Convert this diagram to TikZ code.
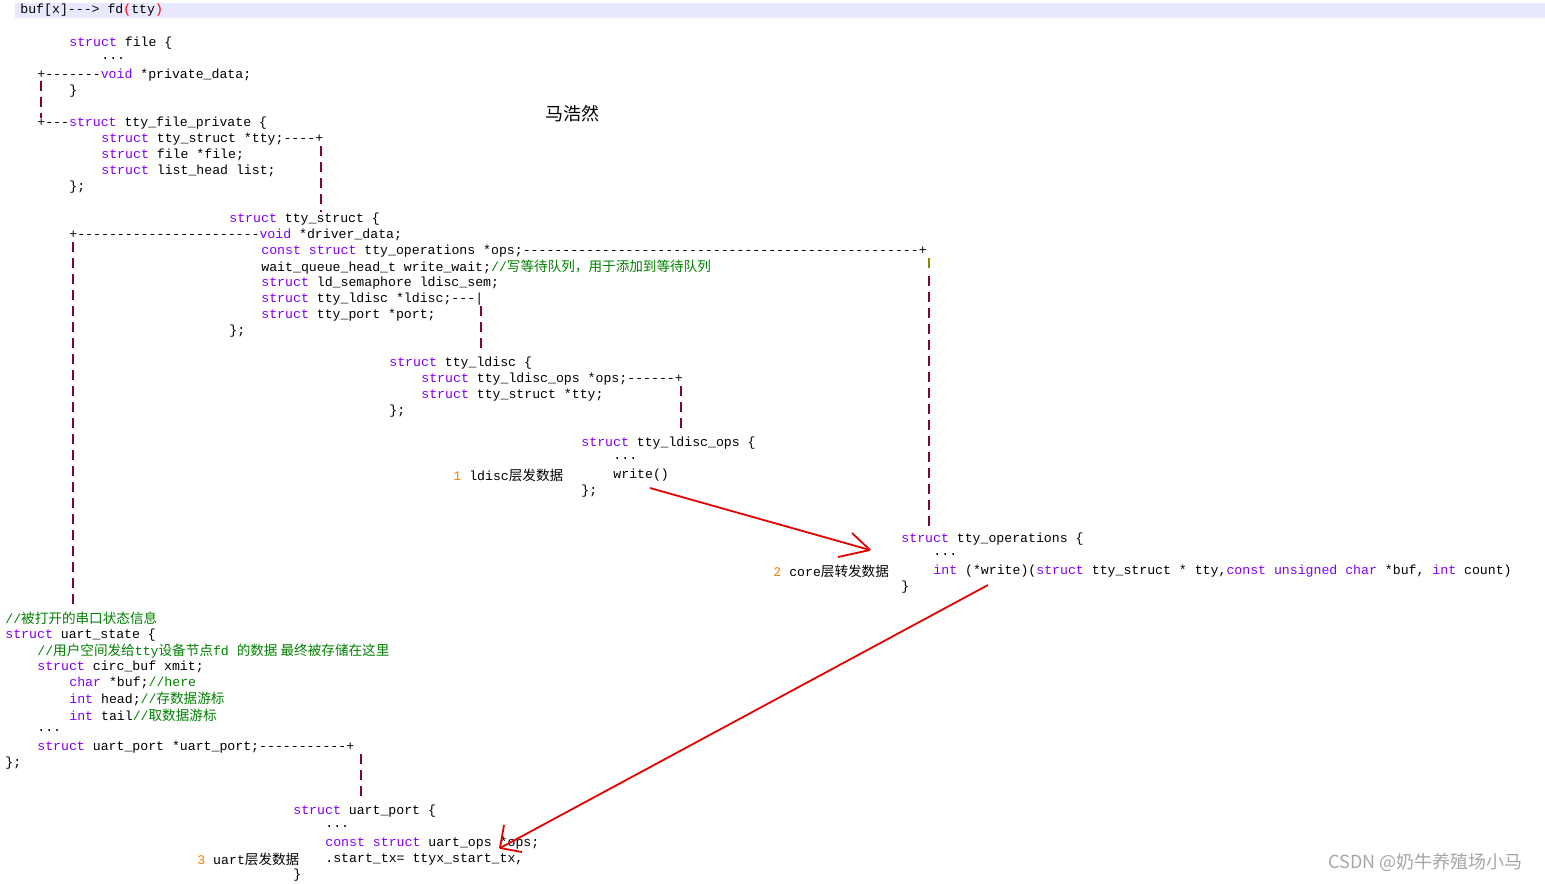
\documentclass[tikz,border=0pt]{standalone}
\usepackage{fontspec}
\setmonofont{Liberation Mono}
\newfontfamily\cjk{Noto Sans CJK SC}
\definecolor{kw}{RGB}{128,0,255}
\definecolor{cmt}{RGB}{0,128,0}
\definecolor{num}{RGB}{255,128,0}
\definecolor{barc}{RGB}{128,0,64}
\definecolor{band}{RGB}{232,232,255}
\newcommand\kw[1]{\textcolor{kw}{#1}}
\newcommand\cm[1]{\textcolor{cmt}{#1}}
\newcommand\zh[1]{{\cjk\fontsize{6.8}{7}\selectfont #1}}
\tikzset{
  code/.style={anchor=west,inner sep=0pt,font=\ttfamily\fontsize{6.6}{7}\selectfont},
  vbar/.style={draw=barc,dash pattern=on 5pt off 3pt,line width=0.6pt},
  pen/.style={draw=red!90!black,line width=0.9pt},
}
\begin{document}
\begin{tikzpicture}[x=0.5pt,y=-0.5pt]
            \useasboundingbox (0,0) rectangle (1545,883);
            \fill[band] (15,3) rectangle (1545,18);
            \node[code] (top) at (20,10) {buf[x]---> fd\textcolor{red}{(}tty\textcolor{red}{)}};

            % struct file
            \node[code] (file) at (69,43) {\kw{struct} file \{};
            \node[code] at (101,59) {...};
            \node[code] (priv) at (37,75) {+-------\kw{void}  *private\_data;};
            \node[code] at (69,91) {\}};
            \node[code] (tfp) at (37,123) {+---\kw{struct} tty\_file\_private \{};
            \node[code] (tty) at (101,139) {\kw{struct} tty\_struct *tty;----+};
            \node[code] at (101,155) {\kw{struct} file *file;};
            \node[code] at (101,171) {\kw{struct} list\_head list;};
            \node[code] at (69,187) {\};};
            \draw[vbar] (41,81) -- (41,118);
            \draw[vbar] (321,146) -- (321,212);

            % struct tty_struct
            \node[code] (ts) at (229,219) {\kw{struct} tty\_struct \{};
            \node[code] (drv) at (69,235) {+-----------------------\kw{void} *driver\_data;};
            \node[code] (ops) at (261,251) {\kw{const} \kw{struct} tty\_operations *ops;--------------------------------------------------+};
            \node[code] at (261,267) {wait\_queue\_head\_t write\_wait;\cm{//\zh{写等待队列，用于添加到等待队列}}};
            \node[code] at (261,283) {\kw{struct} ld\_semaphore ldisc\_sem;};
            \node[code] (ld) at (261,299) {\kw{struct} tty\_ldisc *ldisc;---|};
            \node[code] at (261,315) {\kw{struct} tty\_port *port;};
            \node[code] at (229,331) {\};};
            \draw[vbar] (73,242) -- (73,610);
            \draw[vbar] (481,306) -- (481,354);
            \draw[vbar,draw=olive] (929,258) -- (929,274);
            \draw[vbar] (929,276) -- (929,530);

            % struct tty_ldisc
            \node[code] (ldisc) at (389,363) {\kw{struct} tty\_ldisc \{};
            \node[code] (lops) at (421,379) {\kw{struct} tty\_ldisc\_ops *ops;------+};
            \node[code] at (421,395) {\kw{struct} tty\_struct *tty;};
            \node[code] at (389,411) {\};};
            \draw[vbar] (681,386) -- (681,434);

            % struct tty_ldisc_ops
            \node[code] (ldops) at (581,443) {\kw{struct} tty\_ldisc\_ops \{};
            \node[code] at (613,459) {...};
            \node[code] (step1) at (453,475) {\textcolor{num}{1} ldisc\zh{层发数据}};
            \node[code] (lwrite) at (613,475) {write()};
            \node[code] at (581,491) {\};};

            % struct tty_operations
            \node[code] (tops) at (901,539) {\kw{struct} tty\_operations \{};
            \node[code] at (933,555) {...};
            \node[code] (step2) at (773,571) {\textcolor{num}{2} core\zh{层转发数据}};
            \node[code] (twrite) at (933,571) {\kw{int}  (*write)(\kw{struct} tty\_struct * tty,\kw{const} \kw{unsigned} \kw{char} *buf, \kw{int} count)};
            \node[code] at (901,587) {\}};

            % struct uart_state
            \node[code] (cm1) at (5,618) {\cm{//\zh{被打开的串口状态信息}}};
            \node[code] (us) at (5,635) {\kw{struct} uart\_state \{};
            \node[code] at (37,651) {\cm{//\zh{用户空间发给}tty\zh{设备节点}fd \zh{的数据 最终被存储在这里}}};
            \node[code] at (37,667) {\kw{struct} circ\_buf      xmit;};
            \node[code] at (69,683) {\kw{char} *buf;\cm{//here}};
            \node[code] at (69,699) {\kw{int} head;\cm{//\zh{存数据游标}}};
            \node[code] at (69,715) {\kw{int} tail\cm{//\zh{取数据游标}}};
            \node[code] at (37,731) {...};
            \node[code] (up) at (37,747) {\kw{struct} uart\_port  *uart\_port;-----------+};
            \node[code] at (5,763) {\};};
            \draw[vbar] (361,754) -- (361,802);

            % struct uart_port
            \node[code] (uport) at (293,811) {\kw{struct} uart\_port \{};
            \node[code] at (325,827) {...};
            \node[code] (uops) at (325,843) {\kw{const} \kw{struct} uart\_ops   *ops;};
            \node[code] (step3) at (197,859) {\textcolor{num}{3} uart\zh{层发数据}};
            \node[code] (stx) at (325,859) {.start\_tx=       ttyx\_start\_tx,};
            \node[code] at (293,875) {\}};

            % hand-drawn arrows
            \coordinate (a1) at (650,488);
            \coordinate (a2) at (870,550);
            \coordinate (b1) at (988,585);
            \coordinate (b2) at (500,848);
            \draw[pen] (a1) -- (a2);
            \draw[pen] (a2) -- (852,533) (a2) -- (838,557);
            \draw[pen] (b1) -- (b2);
            \draw[pen] (b2) -- (504,825) (b2) -- (522,852);

            \node[font=\cjk\fontsize{9}{10}\selectfont] (name) at (572,114) {马浩然};
            \node[font=\cjk\fontsize{9}{10}\selectfont,text=gray!70,anchor=east] (mark) at (1530,862) {CSDN @奶牛养殖场小马};
\end{tikzpicture}
\end{document}
